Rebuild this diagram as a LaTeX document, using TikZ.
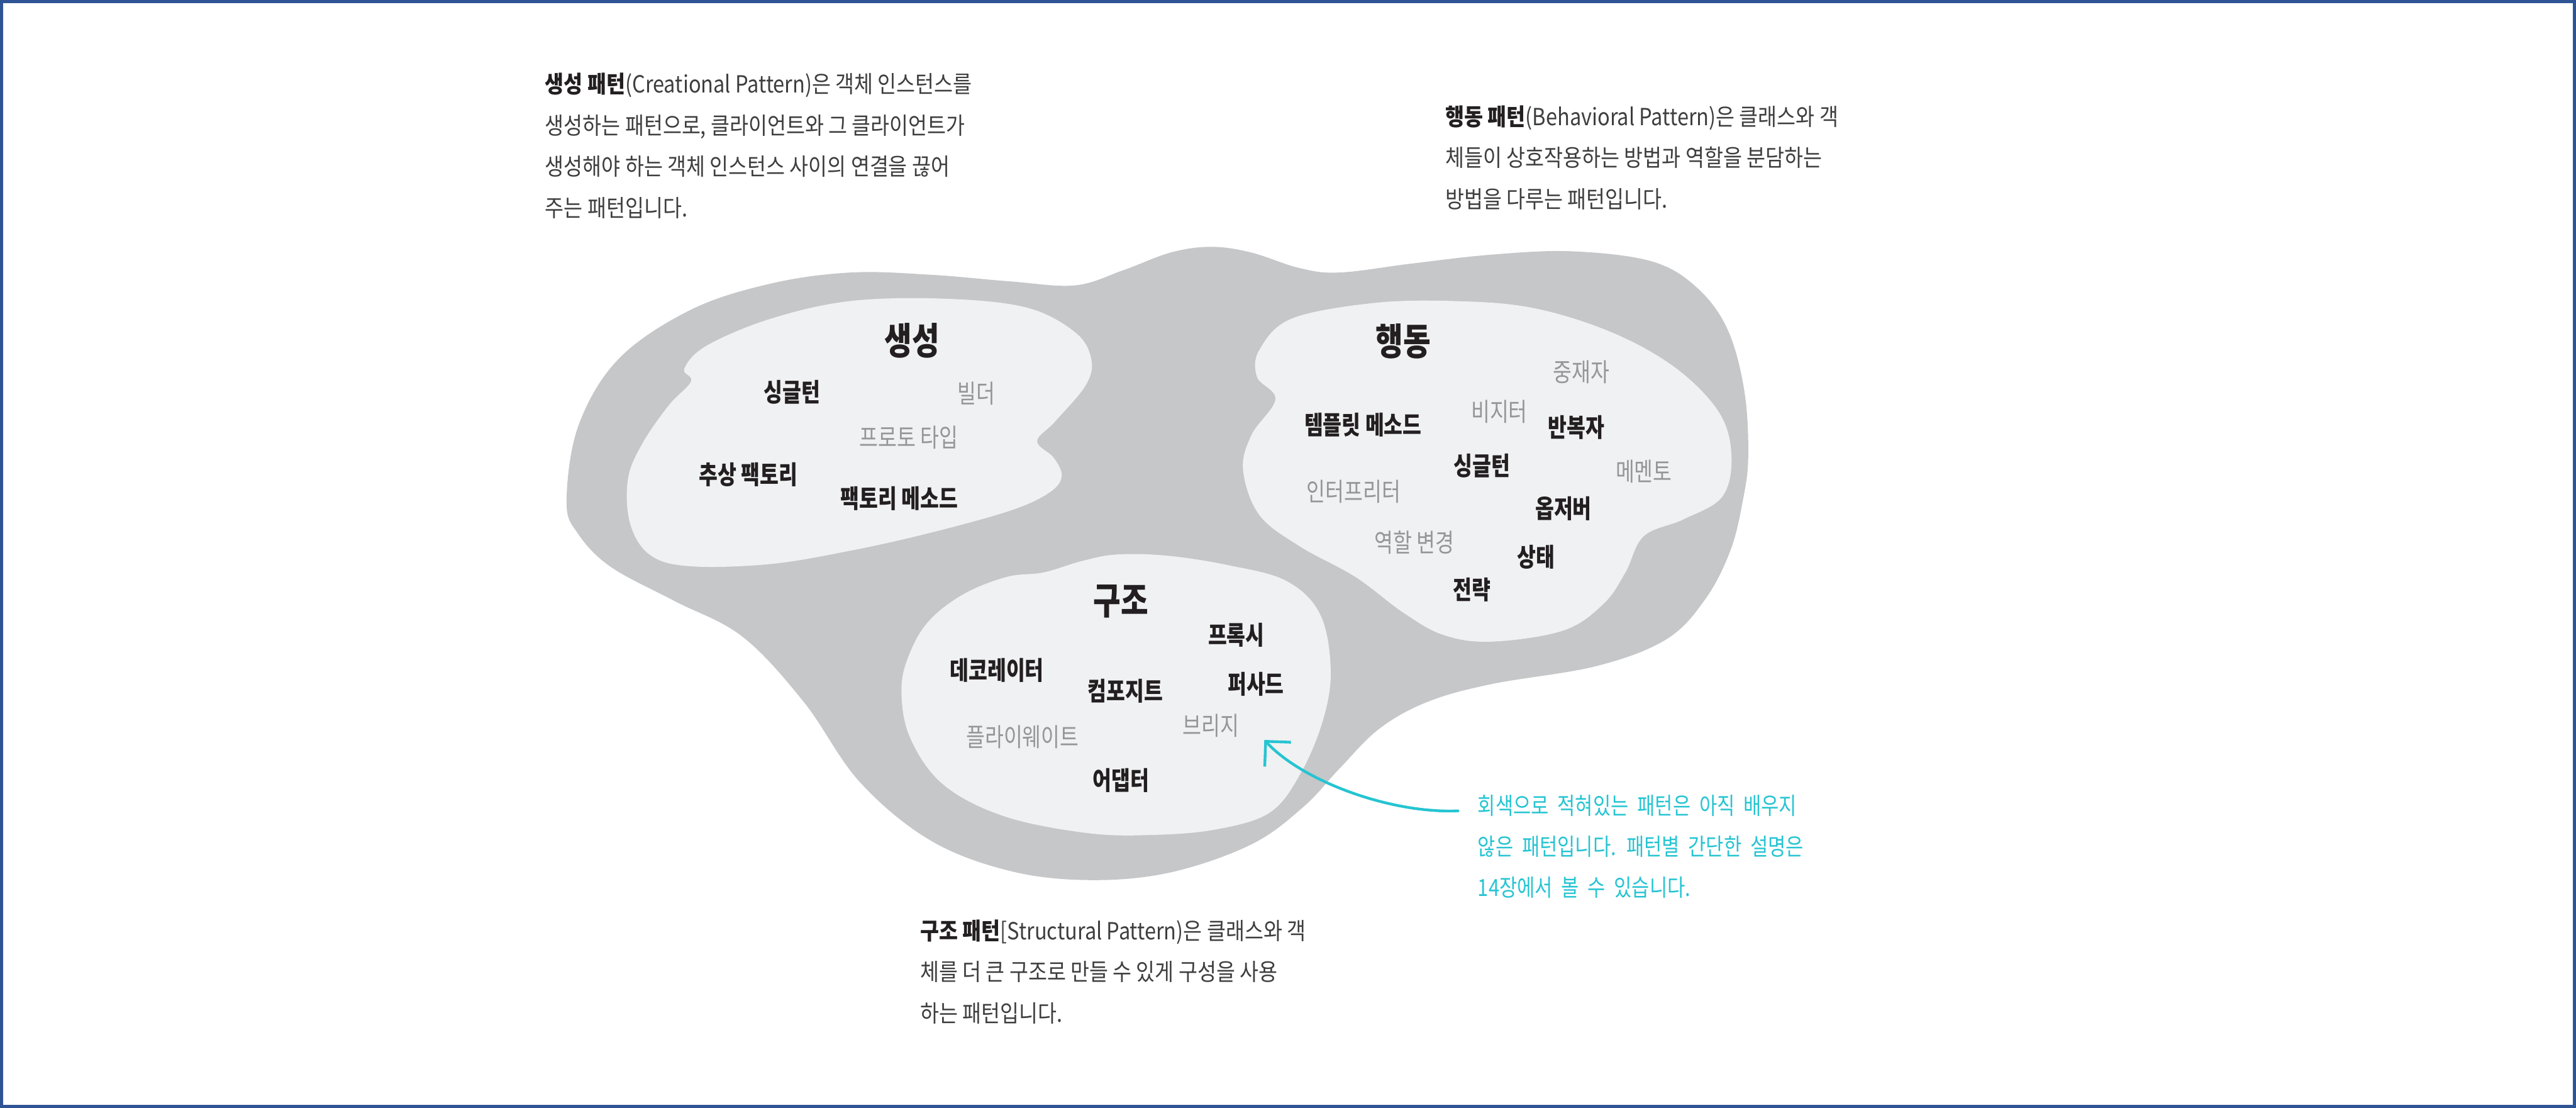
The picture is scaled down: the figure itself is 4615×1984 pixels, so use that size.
\documentclass[tikz,border=0pt]{standalone}
\usepackage{fontspec}
\usepackage{xcolor}
\usepackage{tikz}
\usetikzlibrary{arrows.meta, calc}

\newfontfamily\krbody[FakeStretch=0.87]{Noto Sans CJK KR}
\newfontfamily\krlabel[FakeStretch=0.8]{Noto Sans CJK KR}
\newfontfamily\krnote[FakeStretch=0.82, WordSpace=2]{Noto Sans CJK KR}

\definecolor{frameblue}{RGB}{47,84,150}
\definecolor{blobgray}{RGB}{198,199,201}
\definecolor{blobpale}{RGB}{240,241,242}
\definecolor{inkdark}{RGB}{35,31,32}
\definecolor{inkgray}{RGB}{150,150,152}
\definecolor{textgray}{RGB}{62,62,62}
\definecolor{notecyan}{RGB}{38,196,210}

\begin{document}
\begin{tikzpicture}[
  x=0.01cm, y=-0.01cm,
  every node/.style={inner sep=0pt},
  group/.style={font=\krlabel\bfseries\fontsize{19}{22}\selectfont, text=inkdark},
  known/.style={font=\krlabel\bfseries\fontsize{13}{15}\selectfont, text=inkdark},
  unknown/.style={font=\krlabel\fontsize{13}{15}\selectfont, text=inkgray},
  desc/.style={font=\krbody\fontsize{12}{21}\selectfont, text=textgray,
    align=left, anchor=north west},
  note/.style={font=\krnote\fontsize{12}{20.8}\selectfont, text=notecyan,
    align=left, anchor=north west},
  hint/.style={-{Straight Barb[length=3.2mm, width=6.4mm]}, line width=1.4pt,
    draw=notecyan, line cap=round},
]
  \useasboundingbox (0,0) rectangle (4615,1984);
  \draw[frameblue, line width=0.06cm] (3,3) rectangle (4612,1981);

  % outer blob
  \fill[blobgray] plot[smooth cycle, tension=0.6] coordinates {
    (1015,898) (1036,763) (1108,643) (1237,555) (1380,508) (1524,488)
    (1667,492) (1811,504) (1926,511) (2012,484) (2098,452) (2170,442)
    (2241,452) (2328,480) (2400,488) (2529,472) (2672,456) (2816,450)
    (2959,468) (3040,515) (3095,590) (3125,700) (3132,818) (3122,898)
    (3100,986) (3055,1073) (2985,1145) (2859,1193) (2672,1225) (2557,1257)
    (2471,1305) (2400,1376) (2335,1445) (2242,1512) (2098,1562) (1955,1576)
    (1811,1560) (1667,1505) (1540,1400) (1440,1257) (1330,1140) (1208,1076)
    (1094,1015) (1035,955)};

  % creational blob
  \fill[blobpale] plot[smooth cycle, tension=0.6] coordinates {
    (1226,660) (1238,683) (1198,726) (1151,794) (1125,858) (1129,938)
    (1165,994) (1237,1014) (1380,1010) (1524,986) (1667,954) (1811,914)
    (1880,882) (1902,853) (1888,820) (1858,790) (1890,755) (1945,690)
    (1955,643) (1926,595) (1840,551) (1696,535) (1524,539) (1380,571)
    (1266,619)};

  % behavioral blob
  \fill[blobpale] plot[smooth cycle, tension=0.6] coordinates {
    (2256,627) (2313,571) (2457,543) (2600,539) (2744,551) (2887,595)
    (3002,659) (3080,739) (3102,818) (3085,890) (3016,930) (2945,960)
    (2912,1025) (2873,1081) (2801,1129) (2672,1149) (2586,1137) (2514,1097)
    (2428,1033) (2328,978) (2256,922) (2227,842) (2242,779) (2285,715)
    (2252,675)};

  % structural blob
  \fill[blobpale] plot[smooth cycle, tension=0.6] coordinates {
    (1615,1233) (1631,1167) (1666,1110) (1728,1063) (1804,1033) (1870,1025)
    (1937,1005) (2000,993) (2090,995) (2200,1012) (2304,1040) (2365,1100)
    (2384,1200) (2370,1290) (2330,1385) (2275,1455) (2180,1485) (2069,1495)
    (1950,1492) (1800,1462) (1690,1405) (1630,1320)};

  % creational
  \node[group] (ctitle) at (1634,610) {생성};
  \node[known] (c1) at (1419,702) {싱글턴};
  \node[unknown] (c2) at (1749,705) {빌더};
  \node[unknown] (c3) at (1628,783) {프로토 타입};
  \node[known] (c4) at (1341,850) {추상 팩토리};
  \node[known] (c5) at (1611,893) {팩토리 메소드};

  % behavioral
  \node[group] (btitle) at (2514,611) {행동};
  \node[unknown] (b1) at (2833,666) {중재자};
  \node[unknown] (b2) at (2686,737) {비지터};
  \node[known] (b3) at (2442,761) {템플릿 메소드};
  \node[known] (b4) at (2824,765) {반복자};
  \node[known] (b5) at (2655,834) {싱글턴};
  \node[unknown] (b6) at (2945,844) {메멘토};
  \node[unknown] (b7) at (2425,880) {인터프리터};
  \node[known] (b8) at (2801,911) {옵저버};
  \node[unknown] (b9) at (2534,971) {역할 변경};
  \node[known] (b10) at (2752,998) {상태};
  \node[known] (b11) at (2637,1056) {전략};

  % structural
  \node[group] (stitle) at (2008,1077) {구조};
  \node[known] (s1) at (2215,1137) {프록시};
  \node[known] (s2) at (1786,1200) {데코레이터};
  \node[known] (s3) at (2016,1237) {컴포지트};
  \node[known] (s4) at (2250,1225) {퍼사드};
  \node[unknown] (s5) at (2169,1300) {브리지};
  \node[unknown] (s6) at (1832,1320) {플라이웨이트};
  \node[known] (s7) at (2008,1398) {어댑터};

  % descriptions
  \node[desc] (cdesc) at (976,130) {{\bfseries\color{inkdark}생성 패턴}(Creational Pattern)은 객체 인스턴스를\\
    생성하는 패턴으로, 클라이언트와 그 클라이언트가\\
    생성해야 하는 객체 인스턴스 사이의 연결을 끊어\\
    주는 패턴입니다.};
  \node[desc] (bdesc) at (2589,188) {{\bfseries\color{inkdark}행동 패턴}(Behavioral Pattern)은 클래스와 객\\
    체들이 상호작용하는 방법과 역할을 분담하는\\
    방법을 다루는 패턴입니다.};
  \node[desc] (sdesc) at (1648,1646) {{\bfseries\color{inkdark}구조 패턴}[Structural Pattern)은 클래스와 객\\
    체를 더 큰 구조로 만들 수 있게 구성을 사용\\
    하는 패턴입니다.};

  % note
  \node[note] (note) at (2647,1423) {회색으로 적혀있는 패턴은 아직 배우지\\
    않은 패턴입니다. 패턴별 간단한 설명은\\
    14장에서 볼 수 있습니다.};
  \coordinate (tip) at ($(s5)+(96,25)$);
  \draw[hint] ($(note.north west)+(-35,29)$) .. controls +(-120,5) and +(70,75) .. (tip);
\end{tikzpicture}
\end{document}
